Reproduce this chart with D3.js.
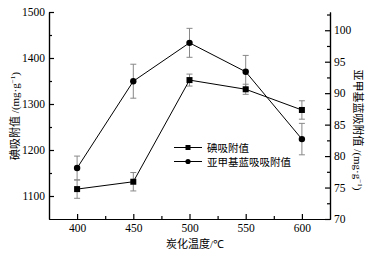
<!DOCTYPE html>
<html>
<head>
<meta charset="utf-8">
<script src="https://cdn.jsdelivr.net/npm/d3@7"></script>
<style>
body { margin: 0; background: #fff; }
text { font-family: "Liberation Serif", serif; }
.cjk { font-family: "Noto Sans CJK SC", sans-serif; }
</style>
</head>
<body>
<div id="container"></div>
<script>
const WIDTH = 370;
const HEIGHT = 254;

const temps = [400, 450, 500, 550, 600];
const iodine = [1115, 1131, 1352, 1332, 1287];
const iodineErr = [20, 20, 13, 11, 20];
const blue = [78.1, 91.9, 98.0, 93.4, 82.7];
const blueErr = [1.9, 2.7, 2.3, 2.6, 2.5];

const leftTicks = [1100, 1200, 1300, 1400, 1500];
const rightTicks = [70, 75, 80, 85, 90, 95, 100];
const xTicks = [400, 450, 500, 550, 600];

var translate = function (x, y) {
    return "translate(" + x + "," + y + ")";
};

var createChart = function () {
    var svg = d3.select("#container").append("svg")
        .attr("width", WIDTH).attr("height", HEIGHT);

    var x = d3.scaleLinear().domain([375, 625]).range([49, 330]);
    var yL = d3.scaleLinear().domain([1050, 1500]).range([219, 12]);
    var yR = d3.scaleLinear().domain([70, 102.9]).range([219, 12]);
    var fmt = d3.format("d");

    var xAxis = d3.axisBottom(x).tickValues(xTicks).tickFormat(fmt).tickSizeInner(-5).tickSizeOuter(0).tickPadding(5);
    var xMinor = d3.axisBottom(x).tickValues([425, 475, 525, 575]).tickSizeInner(-3).tickSizeOuter(0).tickFormat("");
    var lAxis = d3.axisLeft(yL).tickValues(leftTicks).tickFormat(fmt).tickSizeInner(-5).tickSizeOuter(0).tickPadding(4);
    var lMinor = d3.axisLeft(yL).tickValues([1150, 1250, 1350, 1450]).tickSizeInner(-3).tickSizeOuter(0).tickFormat("");
    var rAxis = d3.axisRight(yR).tickValues(rightTicks).tickFormat(fmt).tickSizeInner(-5).tickSizeOuter(0).tickPadding(4);
    var rMinor = d3.axisRight(yR).tickValues([72.5, 77.5, 82.5, 87.5, 92.5, 97.5, 102.5]).tickSizeInner(-3).tickSizeOuter(0).tickFormat("");

    svg.append("g").attr("transform", translate(0, 219)).call(xAxis);
    svg.append("g").attr("transform", translate(0, 219)).call(xMinor);
    svg.append("g").attr("transform", translate(49, 0)).call(lAxis);
    svg.append("g").attr("transform", translate(49, 0)).call(lMinor);
    svg.append("g").attr("transform", translate(330, 0)).call(rAxis);
    svg.append("g").attr("transform", translate(330, 0)).call(rMinor);

    svg.selectAll(".domain, .tick line").attr("stroke", "#000").attr("stroke-width", 1.2);
    svg.selectAll(".tick text")
        .style("font-family", "'Liberation Serif', 'Times New Roman', serif")
        .attr("font-size", 11.5).attr("fill", "#000");

    // error bars
    var bars = function (vals, errs, y) {
        var g = svg.append("g").attr("stroke", "#888").attr("stroke-width", 1).attr("fill", "none");
        temps.forEach(function (t, i) {
            var cx = x(t);
            g.append("line").attr("x1", cx).attr("x2", cx)
                .attr("y1", y(vals[i] - errs[i])).attr("y2", y(vals[i] + errs[i]));
            [vals[i] - errs[i], vals[i] + errs[i]].forEach(function (v) {
                g.append("line").attr("x1", cx - 3).attr("x2", cx + 3)
                    .attr("y1", y(v)).attr("y2", y(v));
            });
        });
    };
    bars(iodine, iodineErr, yL);
    bars(blue, blueErr, yR);

    var lineL = d3.line().x(function (d, i) { return x(temps[i]); }).y(function (d) { return yL(d); });
    var lineR = d3.line().x(function (d, i) { return x(temps[i]); }).y(function (d) { return yR(d); });

    svg.append("path").attr("d", lineL(iodine)).attr("stroke", "#000").attr("fill", "none").attr("stroke-width", 1);
    svg.append("path").attr("d", lineR(blue)).attr("stroke", "#000").attr("fill", "none").attr("stroke-width", 1);

    svg.selectAll(".sq").data(iodine).enter().append("rect")
        .attr("x", function (d, i) { return x(temps[i]) - 3; })
        .attr("y", function (d) { return yL(d) - 3; })
        .attr("width", 6).attr("height", 6).attr("fill", "#000");

    svg.selectAll(".ci").data(blue).enter().append("circle")
        .attr("cx", function (d, i) { return x(temps[i]); })
        .attr("cy", function (d) { return yR(d); })
        .attr("r", 3.2).attr("fill", "#000");

    // legend
    var leg = svg.append("g");
    leg.append("line").attr("x1", 174).attr("x2", 202).attr("y1", 147.5).attr("y2", 147.5).attr("stroke", "#000");
    leg.append("rect").attr("x", 185.5).attr("y", 145).attr("width", 5).attr("height", 5).attr("fill", "#000");
    leg.append("text").attr("class", "cjk").attr("x", 207).attr("y", 151.5).attr("font-size", 10.5).text("碘吸附值");
    leg.append("line").attr("x1", 174).attr("x2", 202).attr("y1", 161.5).attr("y2", 161.5).attr("stroke", "#000");
    leg.append("circle").attr("cx", 188).attr("cy", 161.5).attr("r", 2.6).attr("fill", "#000");
    leg.append("text").attr("class", "cjk").attr("x", 207).attr("y", 165.5).attr("font-size", 10.5).text("亚甲基蓝吸吸附值");

    // axis titles
    var xt = svg.append("text").attr("x", 195).attr("y", 248).attr("text-anchor", "middle").attr("font-size", 11);
    xt.append("tspan").attr("class", "cjk").text("炭化温度");
    xt.append("tspan").text("/℃");

    var lt = svg.append("text").attr("transform", translate(19, 116) + " rotate(-90)")
        .attr("text-anchor", "middle").attr("font-size", 11);
    lt.append("tspan").attr("class", "cjk").text("碘吸附值");
    lt.append("tspan").text(" /(mg·g");
    lt.append("tspan").attr("font-size", 7).attr("dy", -4).text("−1");
    lt.append("tspan").attr("dy", 4).text(")");

    var rt = svg.append("text").attr("transform", translate(354, 130) + " rotate(90)")
        .attr("text-anchor", "middle").attr("font-size", 11);
    rt.append("tspan").attr("class", "cjk").text("亚甲基蓝吸附值");
    rt.append("tspan").text(" /(mg·g");
    rt.append("tspan").attr("font-size", 7).attr("dy", -4).text("−1");
    rt.append("tspan").attr("dy", 4).text(")");
};

window.onload = createChart;
</script>
</body>
</html>
